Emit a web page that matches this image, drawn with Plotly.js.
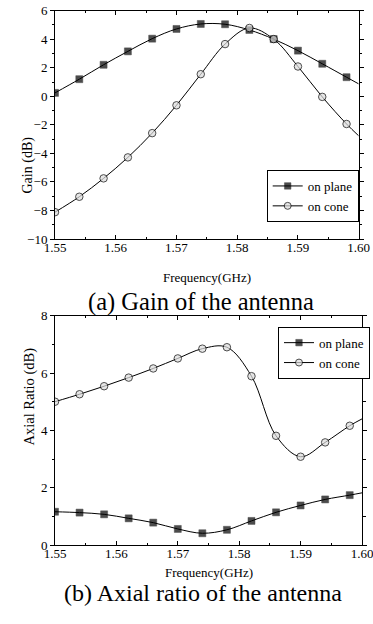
<!DOCTYPE html>
<html>
<head>
<meta charset="utf-8">
<script src="https://cdn.plot.ly/plotly-3.0.1.min.js"></script>
<style>html,body{margin:0;padding:0;background:#fff;}#chart{width:373px;height:624px;}</style>
</head>
<body>
<div id="chart"></div>
<script>
// ---- data ----
var freq = [1.550, 1.554, 1.558, 1.562, 1.566, 1.570, 1.574, 1.578, 1.582, 1.586, 1.590, 1.594, 1.598, 1.600];
var gainPlane = [0.24, 1.20, 2.21, 3.15, 4.04, 4.72, 5.07, 5.05, 4.65, 4.01, 3.20, 2.28, 1.34, 0.87];
var gainCone = [-8.12, -7.04, -5.75, -4.28, -2.58, -0.63, 1.55, 3.66, 4.79, 4.01, 2.09, -0.04, -1.94, -2.77];
var arPlane = [1.16, 1.13, 1.07, 0.93, 0.78, 0.56, 0.41, 0.53, 0.84, 1.14, 1.38, 1.59, 1.74, 1.82];
var arCone = [5.00, 5.26, 5.54, 5.84, 6.16, 6.51, 6.85, 6.90, 5.89, 3.81, 3.08, 3.58, 4.16, 4.40];
var seriesNames = ["on plane", "on cone"];
var xTitle = "Frequency(GHz)";
var gainTitle = "Gain (dB)";
var arTitle = "Axial Ratio (dB)";
var captionA = "(a) Gain of the antenna";
var captionB = "(b) Axial ratio of the antenna";

var FONT = 'Liberation Serif, DejaVu Serif, serif';
var W = 373, H = 624;
function px(x){return x / W;}
function py(y){return 1 - y / H;}

// last point only continues the line to the frame edge
var sizes = freq.map(function(f, i){ return i === freq.length - 1 ? 0 : 7; });
var csizes = freq.map(function(f, i){ return i === freq.length - 1 ? 0 : 7.5; });

function sq(y, xa, ya, lg){
  return {x: freq, y: y, xaxis: xa, yaxis: ya, legend: lg, name: seriesNames[0],
    mode: 'lines+markers', line: {color: '#000', width: 1, shape: 'spline', smoothing: 1},
    marker: {symbol: 'square', size: sizes, color: '#000', line: {color: '#000', width: 0.5}}};
}
function ci(y, xa, ya, lg){
  return {x: freq, y: y, xaxis: xa, yaxis: ya, legend: lg, name: seriesNames[1],
    mode: 'lines+markers', line: {color: '#000', width: 1, shape: 'spline', smoothing: 1},
    marker: {symbol: 'circle', size: csizes, color: '#dcdcdc', line: {color: '#000', width: 1}}};
}

var traces = [
  sq(gainPlane, 'x', 'y', 'legend'),
  ci(gainCone, 'x', 'y', 'legend'),
  sq(arPlane, 'x2', 'y2', 'legend2'),
  ci(arCone, 'x2', 'y2', 'legend2')
];

function xaxisDef(domain, anchor){
  return {domain: domain, anchor: anchor, range: [1.55, 1.60], dtick: 0.01, tick0: 1.55,
    tickformat: '.2f', showline: true, linecolor: '#000', linewidth: 1, mirror: 'allticks',
    ticks: 'inside', ticklen: 4, tickcolor: '#000', showgrid: false, zeroline: false,
    ticklabeloverflow: 'allow', ticklabelstandoff: -4,
    minor: {dtick: 0.005, ticks: 'inside', ticklen: 2.5, tickcolor: '#000', showgrid: false},
    tickfont: {family: FONT, size: 13, color: '#000'}};
}
function yaxisDef(domain, anchor, range){
  return {domain: domain, anchor: anchor, range: range, dtick: 2,
    showline: true, linecolor: '#000', linewidth: 1, mirror: 'allticks',
    ticks: 'outside', ticklen: 4, tickcolor: '#000', showgrid: false, zeroline: false,
    ticklabeloverflow: 'allow',
    minor: {dtick: 1, ticks: 'outside', ticklen: 2.5, tickcolor: '#000', showgrid: false},
    tickfont: {family: FONT, size: 13, color: '#000'}};
}

var layout = {
  width: W, height: H, margin: {l: 0, r: 0, t: 0, b: 0}, paper_bgcolor: '#fff', plot_bgcolor: '#fff',
  showlegend: true,
  font: {family: FONT, color: '#000'},
  xaxis: xaxisDef([px(55), px(358.7)], 'y'),
  yaxis: yaxisDef([py(239), py(10.7)], 'x', [-10, 6]),
  xaxis2: xaxisDef([px(55), px(362)], 'y2'),
  yaxis2: yaxisDef([py(545), py(315.7)], 'x2', [0, 8]),
  legend: {x: px(266.7), y: py(170), xanchor: 'left', yanchor: 'top', bgcolor: '#fff',
    bordercolor: '#000', borderwidth: 1, font: {family: FONT, size: 13, color: '#000'},
    tracegroupgap: 0, itemwidth: 30},
  legend2: {x: px(278), y: py(326.7), xanchor: 'left', yanchor: 'top', bgcolor: '#fff',
    bordercolor: '#000', borderwidth: 1, font: {family: FONT, size: 13, color: '#000'},
    tracegroupgap: 0, itemwidth: 30},
  annotations: [
    {text: gainTitle, xref: 'paper', yref: 'paper', x: px(17), y: py(135), textangle: -90,
      showarrow: false, font: {family: FONT, size: 14, color: '#000'}},
    {text: arTitle, xref: 'paper', yref: 'paper', x: px(18), y: py(448), textangle: -90,
      showarrow: false, font: {family: FONT, size: 14.5, color: '#000'}},
    {text: xTitle, xref: 'paper', yref: 'paper', x: px(207), y: py(277.5),
      showarrow: false, font: {family: FONT, size: 13, color: '#000'}},
    {text: xTitle, xref: 'paper', yref: 'paper', x: px(208.5), y: py(581.5),
      showarrow: false, font: {family: FONT, size: 13, color: '#000'}},
    {text: captionA, xref: 'paper', yref: 'paper', x: px(201), y: py(302),
      showarrow: false, font: {family: FONT, size: 24.5, color: '#000'}},
    {text: captionB, xref: 'paper', yref: 'paper', x: px(202.5), y: py(607.5),
      showarrow: false, font: {family: FONT, size: 24, color: '#000'}}
  ]
};

Plotly.newPlot('chart', traces, layout, {displayModeBar: false, staticPlot: true});
</script>
</body>
</html>
